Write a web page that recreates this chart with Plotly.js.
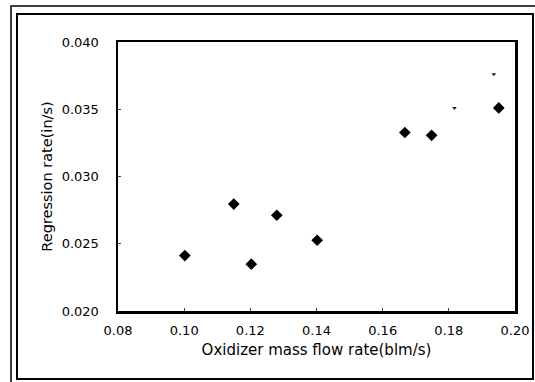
<!DOCTYPE html>
<html>
<head>
<meta charset="utf-8">
<script src="https://cdn.plot.ly/plotly-3.0.1.min.js"></script>
<style>
html,body{margin:0;padding:0;background:#fff;}
#chart{width:535px;height:382px;}
</style>
</head>
<body>
<div id="chart"></div>
<script>
// Oxidizer mass flow rate (blm/s)
const flowRate = [0.1002, 0.1150, 0.1203, 0.1280, 0.1402, 0.1667, 0.1748, 0.1951];
// Regression rate (in/s)
const regressionRate = [0.02412, 0.02795, 0.02348, 0.02712, 0.02526, 0.03327, 0.03306, 0.03510];
// faint partial marks in the scan
const faintFlow = [0.1817, 0.1936];
const faintRate = [0.03510, 0.03760];

const xTicks = [0.08, 0.10, 0.12, 0.14, 0.16, 0.18, 0.20];
const xTickText = ['0.08', '0.10', '0.12', '0.14', '0.16', '0.18', '0.20'];
const yTicks = [0.020, 0.025, 0.030, 0.035, 0.040];
const yTickText = ['0.020', '0.025', '0.030', '0.035', '0.040'];

const traces = [
  {
    x: flowRate, y: regressionRate, type: 'scatter', mode: 'markers',
    marker: {symbol: 'diamond', size: 9, color: '#000'},
    showlegend: false, hoverinfo: 'x+y'
  },
  {
    x: faintFlow, y: faintRate, type: 'scatter', mode: 'markers',
    marker: {symbol: 'triangle-down', size: 4, color: '#222'},
    showlegend: false, hoverinfo: 'skip'
  }
];

const fontFam = 'DejaVu Sans, Arial, sans-serif';
const layout = {
  width: 535, height: 382,
  margin: {l: 118, r: 20, t: 42, b: 71},
  paper_bgcolor: '#fff', plot_bgcolor: '#fff',
  font: {family: fontFam, color: '#000', size: 13},
  xaxis: {
    range: [0.08, 0.20], tickvals: xTicks, ticktext: xTickText,
    showgrid: false, zeroline: false,
    showline: true, linewidth: 2.5, linecolor: '#000', mirror: true,
    ticks: 'inside', ticklen: 3, tickwidth: 1, tickcolor: '#444',
    ticklabelstandoff: 6,
    tickfont: {family: fontFam, size: 13, color: '#000'},
    title: {text: 'Oxidizer mass flow rate(blm/s)', font: {family: fontFam, size: 15, color: '#000'}, standoff: 8},
    automargin: false
  },
  yaxis: {
    range: [0.020, 0.040], tickvals: yTicks, ticktext: yTickText,
    showgrid: false, zeroline: false,
    showline: true, linewidth: 2.5, linecolor: '#000', mirror: true,
    ticks: 'inside', ticklen: 3, tickwidth: 1, tickcolor: '#444',
    ticklabelstandoff: 14,
    tickfont: {family: fontFam, size: 13, color: '#000'},
    title: {text: 'Regression rate(in/s)', font: {family: fontFam, size: 14.5, color: '#000'}, standoff: 6},
    automargin: false
  },
  shapes: [
    {type: 'rect', xref: 'paper', yref: 'paper', x0: -0.2544, x1: 1.0453, y0: -0.2528, y1: 1.1041,
     line: {color: '#000', width: 2}},
    {type: 'rect', xref: 'paper', yref: 'paper', x0: -0.2695, x1: 1.08, y0: -0.28, y1: 1.1338,
     line: {color: '#000', width: 1.5}}
  ]
};

Plotly.newPlot('chart', traces, layout, {displayModeBar: false, staticPlot: true});
</script>
</body>
</html>
